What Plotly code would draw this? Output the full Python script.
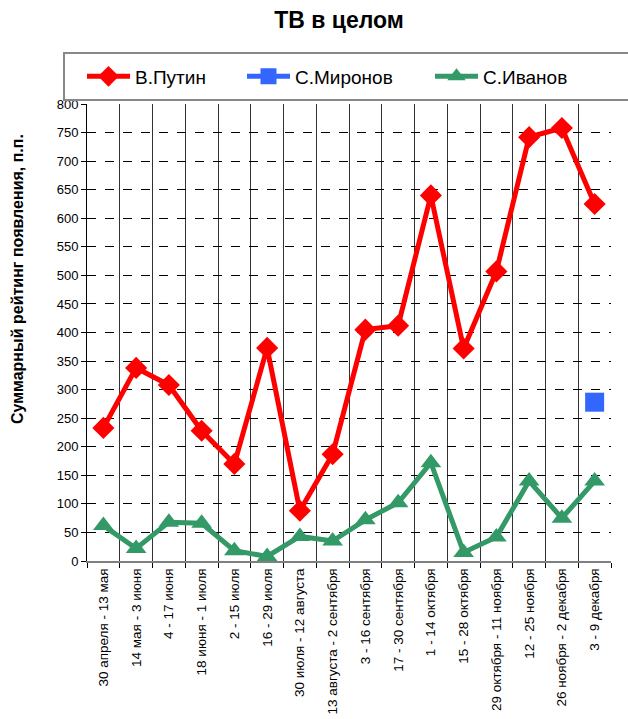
import plotly.graph_objects as go

# Two-week periods of the campaign
periods = [
    "30 апреля - 13 мая", "14 мая - 3 июня", "4 - 17 июня", "18 июня - 1 июля",
    "2 - 15 июля", "16 - 29 июля", "30 июля - 12 августа", "13 августа - 2 сентября",
    "3 - 16 сентября", "17 - 30 сентября", "1 - 14 октября", "15 - 28 октября",
    "29 октября - 11 ноября", "12 - 25 ноября", "26 ноября - 2 декабря", "3 - 9 декабря",
]

putin = [233, 338, 308, 228, 170, 373, 88, 187, 405, 412, 640, 372, 507, 742, 758, 625]
mironov = [None] * 15 + [278]
ivanov = [62, 22, 68, 66, 18, 8, 43, 35, 72, 102, 172, 15, 42, 140, 75, 140]

y_ticks = list(range(0, 801, 50))

W, H = 628, 719
L, R, T, B = 87, 17, 104, 158
pw = W - L - R
ph = H - T - B

FONT = "Liberation Sans, Arial, sans-serif"


def px_x(v):
    return (v - L) / pw


def px_y(v):
    return (H - B - v) / ph


fig = go.Figure()
fig.add_trace(go.Scatter(
    x=periods, y=putin, name="В.Путин", mode="lines+markers", legend="legend",
    line=dict(color="#FF0000", width=5),
    marker=dict(symbol="diamond", size=17, color="#FF0000", line=dict(width=0)),
))
fig.add_trace(go.Scatter(
    x=periods, y=mironov, name="С.Миронов", mode="lines+markers", legend="legend2",
    line=dict(color="#3366FF", width=5),
    marker=dict(symbol="square", size=19, color="#3366FF", line=dict(width=0)),
))
fig.add_trace(go.Scatter(
    x=periods, y=ivanov, name="С.Иванов", mode="lines+markers", legend="legend3",
    line=dict(color="#339966", width=5),
    marker=dict(symbol="triangle-up", size=18, color="#339966", line=dict(width=0)),
))

# Legend frame (runs off the right edge of the page)
fig.add_shape(
    type="rect", xref="paper", yref="paper",
    x0=px_x(64), x1=px_x(W + 10),
    y0=px_y(100), y1=px_y(53),
    line=dict(color="#888888", width=2), fillcolor="rgba(0,0,0,0)",
)

# Vertical axis title
fig.add_annotation(
    text="<b>Суммарный рейтинг появления, п.п.</b>",
    xref="paper", yref="paper", x=px_x(17), y=px_y(279),
    textangle=-90, showarrow=False, xanchor="center", yanchor="middle",
    font=dict(size=16, color="black", family=FONT),
)


def legend_box(left):
    return dict(
        orientation="h", x=px_x(left), y=px_y(76.5),
        xanchor="left", yanchor="middle", xref="paper", yref="paper",
        bgcolor="rgba(0,0,0,0)", borderwidth=0, itemwidth=43,
        font=dict(size=19, color="black", family=FONT),
        itemsizing="trace",
    )


fig.update_layout(
    width=W, height=H,
    margin=dict(l=L, r=R, t=T, b=B, pad=0, autoexpand=False),
    paper_bgcolor="white", plot_bgcolor="white",
    font=dict(family=FONT, color="black"),
    title=dict(
        text="<b>ТВ в целом</b>", x=px_x(339), xref="paper", xanchor="center",
        y=1 - 20 / H, yanchor="middle",
        font=dict(size=23, color="black", family=FONT),
    ),
    showlegend=True,
    legend=legend_box(82),
    legend2=legend_box(242),
    legend3=legend_box(430),
    xaxis=dict(
        type="category", categoryorder="array", categoryarray=periods,
        tickson="boundaries", ticks="outside", ticklen=5, tickcolor="black",
        tickangle=-90, tickfont=dict(size=13.5, color="black", family=FONT),
        showgrid=True, gridcolor="#333333", gridwidth=1,
        showline=True, linecolor="#808080", linewidth=2,
        mirror=False, zeroline=False, automargin=False,
        range=[-0.5, len(periods) - 0.5],
    ),
    yaxis=dict(
        range=[0, 800], tickvals=y_ticks, ticktext=[str(v) for v in y_ticks],
        ticks="outside", ticklen=5, tickcolor="black",
        tickfont=dict(size=13, color="black", family=FONT),
        showgrid=True, gridcolor="black", gridwidth=1, griddash="dash",
        showline=True, linecolor="black", linewidth=1,
        zeroline=False, automargin=False,
    ),
)

fig.write_html("out.html")
